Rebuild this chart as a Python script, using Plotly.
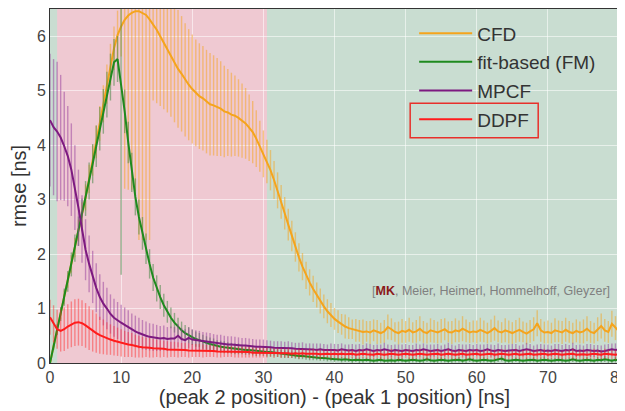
import plotly.graph_objects as go

# x grid: peak separation in ns (0.5 ns steps)
x_ns = [i * 0.5 for i in range(161)]

cfd = [
    0.00, 0.30, 0.60, 0.91, 1.21, 1.52, 1.82, 2.12, 2.43, 2.73,
    3.04, 3.38, 3.72, 4.06, 4.40, 4.76, 5.12, 5.48, 5.78, 6.02,
    6.18, 6.30, 6.38, 6.43, 6.46, 6.46, 6.43, 6.39, 6.31, 6.22,
    6.12, 6.00, 5.88, 5.76, 5.64, 5.52, 5.40, 5.31, 5.20, 5.11,
    5.03, 4.96, 4.90, 4.86, 4.80, 4.75, 4.73, 4.70, 4.67, 4.62,
    4.60, 4.56, 4.54, 4.50, 4.45, 4.40, 4.32, 4.24, 4.12, 3.98,
    3.84, 3.70, 3.54, 3.36, 3.17, 2.96, 2.75, 2.54, 2.33, 2.13,
    1.94, 1.77, 1.61, 1.48, 1.36, 1.25, 1.14, 1.04, 0.95, 0.88,
    0.81, 0.76, 0.71, 0.67, 0.64, 0.62, 0.60, 0.59, 0.57, 0.58,
    0.56, 0.60, 0.57, 0.55, 0.58, 0.66, 0.62, 0.57, 0.55, 0.59,
    0.57, 0.61, 0.56, 0.58, 0.63, 0.57, 0.55, 0.60, 0.58, 0.56,
    0.59, 0.62, 0.57, 0.56, 0.60, 0.58, 0.63, 0.59, 0.56, 0.58,
    0.57, 0.61, 0.58, 0.55, 0.59, 0.64, 0.58, 0.56, 0.60, 0.57,
    0.55, 0.58, 0.61, 0.57, 0.54, 0.58, 0.62, 0.73, 0.60, 0.56,
    0.57, 0.55, 0.60, 0.58, 0.56, 0.61, 0.57, 0.55, 0.59, 0.56,
    0.58, 0.63, 0.57, 0.55, 0.62, 0.68, 0.60, 0.57, 0.72, 0.64,
    0.58,
]
cfd_err = [
    0.02, 0.05, 0.08, 0.10, 0.12, 0.14, 0.16, 0.18, 0.20, 0.22,
    0.24, 0.26, 0.28, 0.30, 0.32, 0.34, 0.36, 0.38, 0.40, 0.45,
    0.55, 3.10, 3.20, 3.25, 3.30, 4.20, 4.17, 4.13, 4.05, 1.40,
    1.35, 1.28, 1.22, 1.16, 1.12, 1.10, 1.08, 1.06, 1.04, 1.02,
    1.00, 0.98, 0.97, 0.96, 0.95, 0.94, 0.92, 0.90, 0.87, 0.84,
    0.80, 0.77, 0.74, 0.71, 0.68, 0.65, 0.61, 0.57, 0.52, 0.47,
    0.43, 0.40, 0.37, 0.35, 0.33, 0.31, 0.30, 0.29, 0.28, 0.27,
    0.26, 0.25, 0.25, 0.24, 0.24, 0.23, 0.23, 0.22, 0.22, 0.22,
    0.20, 0.21, 0.19, 0.22, 0.20, 0.18, 0.21, 0.20, 0.23, 0.19,
    0.21, 0.20, 0.22, 0.19, 0.21, 0.23, 0.20, 0.18, 0.21, 0.22,
    0.20, 0.22, 0.19, 0.21, 0.23, 0.20, 0.19, 0.22, 0.21, 0.20,
    0.22, 0.20, 0.19, 0.21, 0.22, 0.20, 0.23, 0.21, 0.19, 0.20,
    0.21, 0.22, 0.20, 0.19, 0.21, 0.23, 0.20, 0.19, 0.22, 0.21,
    0.20, 0.21, 0.22, 0.19, 0.20, 0.21, 0.22, 0.24, 0.21, 0.20,
    0.21, 0.19, 0.22, 0.20, 0.21, 0.22, 0.20, 0.19, 0.21, 0.20,
    0.22, 0.23, 0.20, 0.19, 0.22, 0.23, 0.21, 0.20, 0.24, 0.22,
    0.20,
]

fm = [
    0.00, 0.30, 0.61, 0.90, 1.21, 1.50, 1.81, 2.11, 2.42, 2.72,
    3.02, 3.34, 3.66, 3.98, 4.30, 4.62, 4.93, 5.25, 5.52, 5.58,
    5.12, 4.62, 4.05, 3.50, 3.05, 2.68, 2.38, 2.10, 1.82, 1.57,
    1.37, 1.21, 1.06, 0.94, 0.83, 0.74, 0.66, 0.60, 0.55, 0.51,
    0.47, 0.44, 0.42, 0.39, 0.37, 0.35, 0.33, 0.31, 0.30, 0.29,
    0.28, 0.27, 0.26, 0.26, 0.25, 0.24, 0.24, 0.23, 0.22, 0.22,
    0.21, 0.20, 0.20, 0.19, 0.18, 0.17, 0.16, 0.16, 0.15, 0.14,
    0.13, 0.13, 0.12, 0.11, 0.10, 0.10, 0.09, 0.09, 0.08, 0.08,
    0.07, 0.07, 0.06, 0.07, 0.06, 0.05, 0.06, 0.05, 0.05, 0.06,
    0.05, 0.04, 0.05, 0.06, 0.04, 0.05, 0.05, 0.04, 0.06, 0.05,
    0.04, 0.05, 0.06, 0.05, 0.04, 0.05, 0.07, 0.05, 0.04, 0.05,
    0.06, 0.05, 0.04, 0.05, 0.05, 0.06, 0.04, 0.05, 0.07, 0.05,
    0.04, 0.05, 0.06, 0.05, 0.04, 0.05, 0.06, 0.08, 0.05, 0.04,
    0.05, 0.06, 0.05, 0.04, 0.05, 0.05, 0.06, 0.04, 0.05, 0.06,
    0.05, 0.04, 0.05, 0.06, 0.05, 0.04, 0.05, 0.07, 0.05, 0.04,
    0.05, 0.06, 0.05, 0.04, 0.06, 0.05, 0.07, 0.05, 0.04, 0.06,
    0.05,
]
fm_err = [
    0.03, 0.06, 0.10, 0.13, 0.16, 0.19, 0.22, 0.25, 0.27, 0.30,
    0.32, 0.34, 0.36, 0.38, 0.40, 0.41, 0.42, 0.43, 0.43, 0.42,
    3.50, 0.40, 0.38, 0.36, 0.34, 0.32, 0.30, 0.28, 0.27, 0.25,
    0.24, 0.22, 0.21, 0.20, 0.19, 0.18, 0.17, 0.16, 0.15, 0.15,
    0.14, 0.14, 0.13, 0.13, 0.12, 0.12, 0.12, 0.11, 0.11, 0.11,
    0.10, 0.10, 0.10, 0.10, 0.09, 0.09, 0.09, 0.09, 0.09, 0.08,
    0.08, 0.08, 0.08, 0.07, 0.07, 0.07, 0.07, 0.07, 0.06, 0.06,
    0.06, 0.06, 0.06, 0.06, 0.05, 0.05, 0.05, 0.05, 0.05, 0.05,
    0.05, 0.04, 0.05, 0.05, 0.04, 0.05, 0.04, 0.05, 0.05, 0.04,
    0.05, 0.04, 0.04, 0.05, 0.04, 0.05, 0.05, 0.04, 0.05, 0.04,
    0.04, 0.05, 0.05, 0.04, 0.04, 0.05, 0.05, 0.04, 0.04, 0.05,
    0.05, 0.04, 0.04, 0.05, 0.04, 0.05, 0.04, 0.05, 0.05, 0.04,
    0.04, 0.05, 0.05, 0.04, 0.04, 0.05, 0.04, 0.05, 0.05, 0.04,
    0.05, 0.04, 0.05, 0.04, 0.05, 0.04, 0.05, 0.04, 0.05, 0.05,
    0.04, 0.05, 0.04, 0.05, 0.05, 0.04, 0.05, 0.05, 0.04, 0.04,
    0.05, 0.05, 0.04, 0.04, 0.05, 0.04, 0.05, 0.05, 0.04, 0.05,
    0.04,
]

mpcf = [
    4.46, 4.33, 4.25, 4.14, 3.98, 3.80, 3.55, 3.22, 2.85, 2.46,
    2.08, 1.82, 1.58, 1.38, 1.21, 1.09, 1.00, 0.90, 0.83, 0.78,
    0.74, 0.70, 0.66, 0.61, 0.58, 0.55, 0.52, 0.50, 0.48, 0.47,
    0.46, 0.45, 0.46, 0.44, 0.45, 0.45, 0.50, 0.44, 0.42, 0.46,
    0.43, 0.42, 0.41, 0.40, 0.39, 0.38, 0.37, 0.36, 0.36, 0.35,
    0.34, 0.34, 0.33, 0.33, 0.32, 0.32, 0.31, 0.31, 0.30, 0.30,
    0.30, 0.29, 0.29, 0.28, 0.28, 0.28, 0.27, 0.28, 0.27, 0.26,
    0.26, 0.26, 0.25, 0.26, 0.25, 0.24, 0.25, 0.24, 0.24, 0.25,
    0.24, 0.23, 0.25, 0.24, 0.23, 0.24, 0.22, 0.24, 0.23, 0.25,
    0.23, 0.22, 0.24, 0.23, 0.25, 0.23, 0.22, 0.24, 0.23, 0.22,
    0.24, 0.23, 0.22, 0.24, 0.23, 0.25, 0.24, 0.22, 0.23, 0.24,
    0.22, 0.23, 0.25, 0.23, 0.22, 0.24, 0.23, 0.22, 0.24, 0.23,
    0.24, 0.22, 0.23, 0.25, 0.23, 0.22, 0.24, 0.23, 0.22, 0.23,
    0.23, 0.24, 0.22, 0.23, 0.25, 0.24, 0.22, 0.23, 0.24, 0.22,
    0.23, 0.22, 0.24, 0.23, 0.22, 0.24, 0.23, 0.25, 0.22, 0.23,
    0.22, 0.24, 0.23, 0.22, 0.23, 0.21, 0.22, 0.24, 0.25, 0.24,
    0.25,
]
mpcf_err = [
    1.22, 1.25, 1.28, 1.15, 1.00, 0.92, 0.85, 0.78, 0.70, 0.62,
    0.56, 0.52, 0.48, 0.45, 0.42, 0.40, 0.38, 0.36, 0.35, 0.34,
    0.33, 0.32, 0.31, 0.30, 0.29, 0.28, 0.27, 0.26, 0.25, 0.25,
    0.24, 0.23, 0.23, 0.22, 0.22, 0.21, 0.21, 0.20, 0.20, 0.19,
    0.19, 0.18, 0.18, 0.17, 0.17, 0.17, 0.16, 0.16, 0.16, 0.15,
    0.15, 0.15, 0.15, 0.14, 0.14, 0.14, 0.14, 0.13, 0.13, 0.13,
    0.13, 0.13, 0.12, 0.12, 0.12, 0.12, 0.12, 0.12, 0.11, 0.11,
    0.11, 0.12, 0.11, 0.10, 0.11, 0.12, 0.11, 0.11, 0.10, 0.11,
    0.11, 0.12, 0.11, 0.10, 0.11, 0.11, 0.12, 0.11, 0.10, 0.11,
    0.12, 0.11, 0.10, 0.11, 0.12, 0.11, 0.11, 0.10, 0.11, 0.12,
    0.11, 0.10, 0.11, 0.12, 0.11, 0.11, 0.10, 0.12, 0.11, 0.11,
    0.10, 0.11, 0.12, 0.11, 0.10, 0.11, 0.11, 0.12, 0.11, 0.10,
    0.11, 0.12, 0.11, 0.10, 0.11, 0.11, 0.12, 0.10, 0.11, 0.11,
    0.12, 0.11, 0.10, 0.11, 0.12, 0.11, 0.10, 0.11, 0.11, 0.12,
    0.11, 0.10, 0.11, 0.12, 0.11, 0.11, 0.10, 0.12, 0.11, 0.11,
    0.10, 0.11, 0.12, 0.11, 0.10, 0.11, 0.12, 0.11, 0.11, 0.12,
    0.11,
]

ddpf = [
    0.84, 0.72, 0.62, 0.59, 0.62, 0.67, 0.71, 0.74, 0.75, 0.73,
    0.69, 0.64, 0.59, 0.55, 0.51, 0.48, 0.45, 0.43, 0.41, 0.39,
    0.37, 0.35, 0.34, 0.33, 0.31, 0.30, 0.29, 0.29, 0.28, 0.27,
    0.27, 0.26, 0.26, 0.25, 0.25, 0.25, 0.24, 0.24, 0.24, 0.23,
    0.23, 0.23, 0.23, 0.22, 0.22, 0.22, 0.22, 0.21, 0.21, 0.21,
    0.21, 0.21, 0.20, 0.20, 0.20, 0.20, 0.20, 0.19, 0.19, 0.19,
    0.19, 0.19, 0.19, 0.18, 0.19, 0.18, 0.18, 0.18, 0.17, 0.18,
    0.17, 0.18, 0.17, 0.17, 0.18, 0.17, 0.16, 0.17, 0.17, 0.16,
    0.17, 0.16, 0.17, 0.16, 0.16, 0.17, 0.15, 0.16, 0.17, 0.16,
    0.16, 0.15, 0.17, 0.16, 0.15, 0.16, 0.17, 0.16, 0.15, 0.16,
    0.17, 0.16, 0.15, 0.16, 0.17, 0.16, 0.15, 0.16, 0.16, 0.17,
    0.15, 0.16, 0.17, 0.16, 0.15, 0.16, 0.17, 0.15, 0.16, 0.16,
    0.17, 0.15, 0.16, 0.16, 0.17, 0.15, 0.16, 0.17, 0.16, 0.15,
    0.16, 0.17, 0.15, 0.16, 0.16, 0.17, 0.15, 0.16, 0.16, 0.17,
    0.15, 0.16, 0.17, 0.16, 0.15, 0.16, 0.16, 0.17, 0.15, 0.16,
    0.16, 0.15, 0.16, 0.17, 0.16, 0.15, 0.17, 0.16, 0.16, 0.15,
    0.16,
]
ddpf_err = [
    0.32, 0.34, 0.36, 0.38, 0.40, 0.41, 0.42, 0.43, 0.43, 0.42,
    0.41, 0.40, 0.38, 0.36, 0.34, 0.32, 0.30, 0.28, 0.27, 0.26,
    0.25, 0.24, 0.23, 0.22, 0.21, 0.20, 0.19, 0.18, 0.18, 0.17,
    0.16, 0.16, 0.15, 0.15, 0.14, 0.14, 0.14, 0.13, 0.13, 0.13,
    0.12, 0.12, 0.12, 0.12, 0.11, 0.11, 0.11, 0.11, 0.11, 0.10,
    0.10, 0.10, 0.10, 0.10, 0.10, 0.10, 0.10, 0.09, 0.09, 0.09,
    0.09, 0.09, 0.08, 0.09, 0.08, 0.09, 0.08, 0.09, 0.08, 0.08,
    0.09, 0.08, 0.08, 0.09, 0.08, 0.08, 0.09, 0.08, 0.08, 0.09,
    0.08, 0.09, 0.08, 0.08, 0.09, 0.08, 0.08, 0.09, 0.08, 0.08,
    0.09, 0.08, 0.08, 0.09, 0.08, 0.08, 0.09, 0.08, 0.09, 0.08,
    0.08, 0.09, 0.08, 0.08, 0.09, 0.08, 0.09, 0.08, 0.08, 0.09,
    0.08, 0.08, 0.09, 0.08, 0.09, 0.08, 0.08, 0.09, 0.08, 0.08,
    0.09, 0.08, 0.08, 0.09, 0.08, 0.09, 0.08, 0.08, 0.09, 0.08,
    0.08, 0.09, 0.08, 0.08, 0.09, 0.08, 0.08, 0.09, 0.08, 0.09,
    0.08, 0.08, 0.09, 0.08, 0.08, 0.09, 0.08, 0.09, 0.08, 0.08,
    0.09, 0.08, 0.08, 0.09, 0.08, 0.08, 0.09, 0.08, 0.08, 0.09,
    0.08,
]

series_names = ["CFD", "fit-based (FM)", "MPCF", "DDPF"]
line_colors = ["#f5a41c", "#1e8a1e", "#7d1a80", "#ff1c1c"]
err_colors = ["rgba(245,164,28,0.5)", "rgba(70,135,70,0.55)",
              "rgba(150,60,155,0.5)", "rgba(255,40,40,0.45)"]
values = [cfd, fm, mpcf, ddpf]
errors = [cfd_err, fm_err, mpcf_err, ddpf_err]

# shaded regions (ns)
pink_band = (1.0, 30.5)

FONT = "Liberation Sans, Arial, sans-serif"

fig = go.Figure()
for i, (name, y, e) in enumerate(zip(series_names, values, errors)):
    fig.add_trace(go.Scatter(
        x=x_ns, y=y, name=name, mode="lines",
        line=dict(color=line_colors[i], width=2),
        error_y=dict(type="data", array=e, visible=True,
                     color=err_colors[i], thickness=1.4, width=0),
        legendgroup=name,
    ))

fig.add_shape(type="rect", xref="x", yref="paper",
              x0=pink_band[0], x1=pink_band[1], y0=0, y1=1,
              fillcolor="#efc9d2", line=dict(width=0), layer="below")

fig.add_annotation(
    xref="paper", yref="paper", x=0.988, y=0.203,
    xanchor="right", yanchor="middle", showarrow=False,
    text="[<span style='color:#8b1a1a'><b>MK</b></span>, Meier, Heimerl, Hommelhoff, Gleyzer]",
    font=dict(family=FONT, size=12.5, color="#808080"),
)

# page body has an 8px margin: the figure is sized/offset to compensate
fig.update_layout(
    width=617, height=403,
    margin=dict(l=42, r=6, t=1, b=48, autoexpand=False),
    paper_bgcolor="white",
    plot_bgcolor="#c9ddd1",
    font=dict(family=FONT, color="#333333"),
    showlegend=True,
    legend=dict(x=0.64, y=0.985, xanchor="left", yanchor="top",
                bgcolor="rgba(0,0,0,0)", borderwidth=0, itemwidth=53,
                font=dict(family=FONT, size=19, color="#333333"),
                tracegroupgap=1),
    xaxis=dict(range=[0, 80], tickvals=[0, 10, 20, 30, 40, 50, 60, 70, 80],
               showgrid=True, gridcolor="rgba(255,255,255,0.55)", gridwidth=1,
               zeroline=False, showline=True, linecolor="#333333", linewidth=1,
               mirror=True, ticks="", tickfont=dict(size=16, color="#444444"),
               ticklabeloverflow="allow",
               title=dict(text="(peak 2 position) - (peak 1 position) [ns]",
                          font=dict(size=20, color="#333333"), standoff=4)),
    yaxis=dict(range=[0, 6.5], tickvals=[0, 1, 2, 3, 4, 5, 6],
               showgrid=True, gridcolor="rgba(255,255,255,0.55)", gridwidth=1,
               zeroline=False, showline=True, linecolor="#333333", linewidth=1,
               mirror=True, ticks="", tickfont=dict(size=16, color="#444444"),
               title=dict(text="rmse [ns]", font=dict(size=20, color="#333333"),
                          standoff=6)),
)

# red highlight box around the DDPF legend entry
fig.add_shape(type="rect", xref="paper", yref="paper",
              x0=0.633, x1=0.858, y0=0.636, y1=0.734,
              line=dict(color="#e8302a", width=1.5), fillcolor="rgba(0,0,0,0)")

fig.write_html("out.html")
